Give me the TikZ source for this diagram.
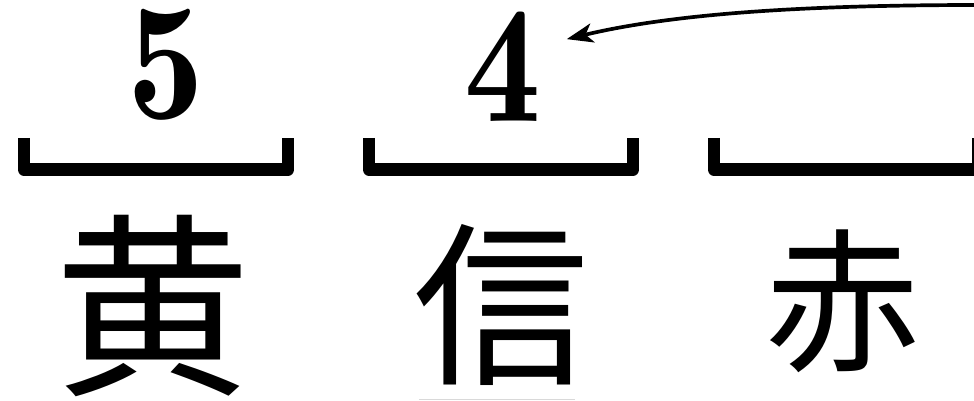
\documentclass[tikz,border=0pt]{standalone}
\usepackage{fontspec}
\usepackage{tikz}
\usetikzlibrary{arrows, arrows.meta}
\newfontfamily\cjk{Noto Sans CJK JP}
\newfontfamily\demi{lmromandemi10-regular.otf}
\tikzset{number/.style = {inner sep = 0, anchor = base, font = \demi\fontsize{95}{95}\selectfont}}
\tikzset{kanji/.style = {inner sep = 0, font = \cjk\fontsize{#1}{#1}\selectfont}}
\tikzset{slot/.style = {line width = 0.25cm, line join = round}}
\tikzset{edge/.style = {-{Stealth[length = 15pt, width = 11pt, inset = 4pt]}, line width = 2.1pt}}

\begin{document}
\begin{tikzpicture}[x = 0.02cm, y = -0.02cm]
			\useasboundingbox (0, 0) rectangle (974, 401);

			\node[number] (five) at (166, 119) {\scalebox{0.92}[1]{5}};
			\node[number] (four) at (503, 122) {\scalebox{0.92}[1]{4}};

			\foreach \x in {24, 369, 714}
				\draw[slot] (\x, 138) -- (\x, 169.5) -- (\x + 264, 169.5) -- (\x + 264, 138);

			\node[kanji = 112] (ki) at (153, 306) {黄};
			\node[kanji = 100] (shin) at (501, 305) {信};
			\node[kanji = 88] (aka) at (843, 301) {赤};

			\draw[gray!30, line width = 0.03cm] (419, 399.5) -- (575, 399.5);

			\coordinate (src) at (980, 5);
			\draw[edge] (src) .. controls (820, 5) and (680, 12) .. ([shift = {(25, 27)}]four.north east);
		\end{tikzpicture}
\end{document}
